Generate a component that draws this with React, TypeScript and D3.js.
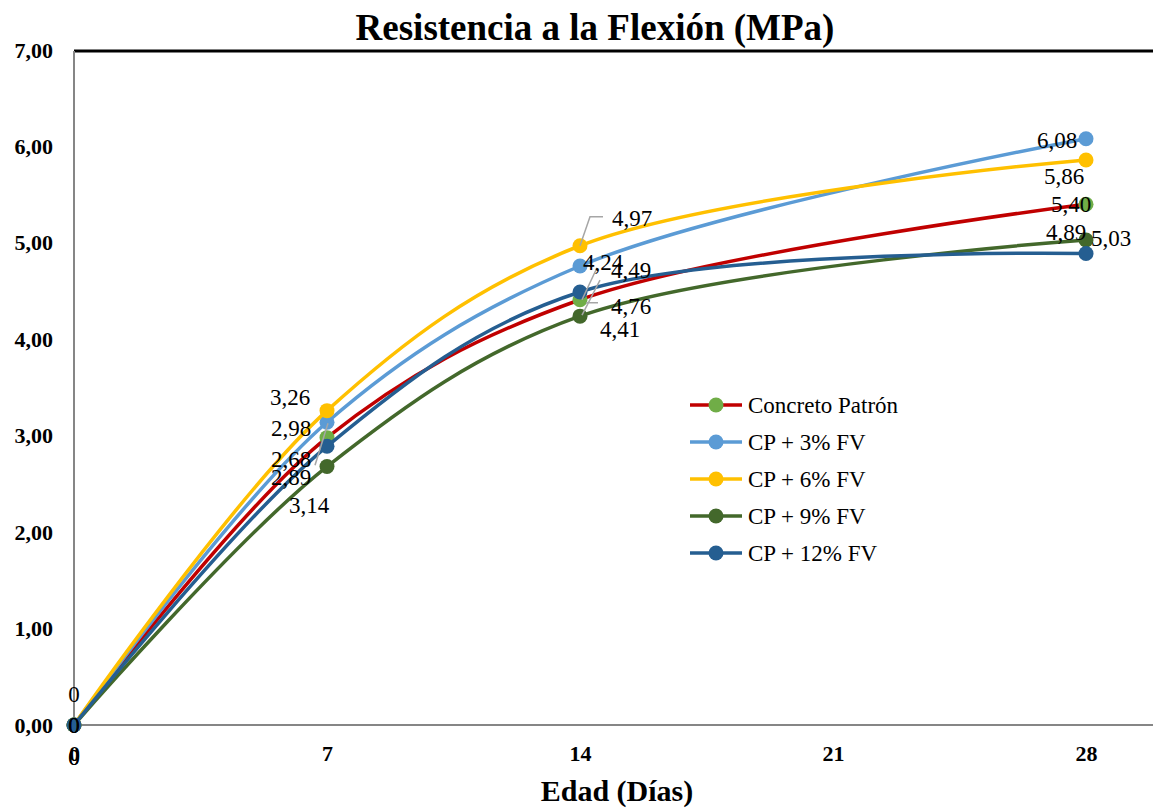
import React, { useEffect, useRef } from "react";
import * as d3 from "d3";

// edad de ensayo (días)
const days = [0, 7, 14, 28];
const seriesNames = ["Concreto Patrón", "CP + 3% FV", "CP + 6% FV", "CP + 9% FV", "CP + 12% FV"];
const patron = [0, 2.98, 4.41, 5.4];
const cp3 = [0, 3.14, 4.76, 6.08];
const cp6 = [0, 3.26, 4.97, 5.86];
const cp9 = [0, 2.68, 4.24, 5.03];
const cp12 = [0, 2.89, 4.49, 4.89];
const xTicks = [0, 7, 14, 21, 28];
const yTicks = [0, 1, 2, 3, 4, 5, 6, 7];

// labels are swapped around like in the original sheet
const labelText = [
  ["0", "2,98", "4,41", "5,40"],
  ["0", "3,14", "4,76", "6,08"],
  ["0", "3,26", "4,97", "5,86"],
  ["0", "2,68", "4,24", "5,03"],
  ["0", "2,89", "4,49", "4,89"],
];

const lineColors = ["#C00000", "#5B9BD5", "#FFC000", "#43682B", "#255E91"];
const markerColors = ["#70AD47", "#5B9BD5", "#FFC000", "#43682B", "#255E91"];

// label offsets from each point [dx, dy]
const labelOffsets: [number, number][][] = [
  [[0, -31], [-36, -10], [40, 29], [-15, 0]],
  [[0, 0], [-18, 83], [51, 40], [-29, 1]],
  [[0, 32], [-37, -14], [52, -28], [-22, 16]],
  [[0, 0], [-36, -8], [23, -54], [25, -2]],
  [[0, 32], [-36, 31], [51, -22], [-20, -22]],
];

// leader lines: [series, point, path relative to the point]
const leaders: [number, number, [number, number][]][] = [
  [2, 2, [[0, 0], [10, -29], [23, -29]]],
  [3, 2, [[2, -1], [20, -36]]],
  [0, 2, [[2, 0], [17, -32]]],
  [0, 2, [[6, 3], [18, 3]]],
  [1, 1, [[1, 1], [-12, 43]]],
];

const serif = "'Liberation Serif', 'Times New Roman', serif";

const App: React.FC = () => {
  const svgRef = useRef<SVGSVGElement | null>(null);

  useEffect(() => {
    if (!svgRef.current) return;
    const svg = d3.select(svgRef.current);
    svg.selectAll("*").remove();

    const data = [patron, cp3, cp6, cp9, cp12];
    const x = d3.scaleLinear().domain([0, 30]).range([74, 74 + (30 * 1012) / 28]);
    const y = d3.scaleLinear().domain([0, 7]).range([725, 50]);

    // axes
    svg
      .append("g")
      .attr("transform", "translate(74,0)")
      .call(d3.axisLeft(y).tickValues(yTicks).tickSize(0).tickPadding(21).tickFormat((d) => d3.format(".2f")(d as number).replace(".", ",")))
      .call((g) => g.select(".domain").remove())
      .selectAll("text")
      .attr("fill", "#000")
      .style("font-family", serif)
      .style("font-size", "22px")
      .style("font-weight", "bold");

    svg
      .append("g")
      .attr("transform", "translate(0,725)")
      .call(d3.axisBottom(x).tickValues(xTicks).tickSize(0).tickPadding(20).tickFormat(d3.format("d")))
      .call((g) => g.select(".domain").remove())
      .selectAll("text")
      .attr("fill", "#000")
      .style("font-family", serif)
      .style("font-size", "22px")
      .style("font-weight", "bold");

    svg.append("line").attr("x1", 74).attr("x2", 1153).attr("y1", 51).attr("y2", 51).attr("stroke", "#000").attr("stroke-width", 3);
    svg.append("line").attr("x1", 74).attr("x2", 74).attr("y1", 51).attr("y2", 725).attr("stroke", "#868686").attr("stroke-width", 2);
    svg.append("line").attr("x1", 74).attr("x2", 1153).attr("y1", 725).attr("y2", 725).attr("stroke", "#868686").attr("stroke-width", 2);

    const line = d3
      .line<number>()
      .x((_, i) => x(days[i]))
      .y((d) => y(d))
      .curve(d3.curveCatmullRom.alpha(0.5));

    data.forEach((vals, si) => {
      svg
        .append("path")
        .attr("d", line(vals))
        .attr("fill", "none")
        .attr("stroke", lineColors[si])
        .attr("stroke-width", 3.5)
        .attr("stroke-linecap", "round");
      svg
        .selectAll(null)
        .data(vals)
        .enter()
        .append("circle")
        .attr("cx", (_, i) => x(days[i]))
        .attr("cy", (d) => y(d))
        .attr("r", 7.5)
        .attr("fill", markerColors[si]);
    });

    // leader lines
    leaders.forEach(([si, pi, pts]) => {
      const px = x(days[pi]);
      const py = y(data[si][pi]);
      svg
        .append("path")
        .attr("d", d3.line()(pts.map(([dx, dy]) => [px + dx, py + dy])))
        .attr("fill", "none")
        .attr("stroke", "#A6A6A6")
        .attr("stroke-width", 1.5);
    });

    // data labels
    data.forEach((vals, si) => {
      vals.forEach((v, pi) => {
        const [dx, dy] = labelOffsets[si][pi];
        svg
          .append("text")
          .attr("x", x(days[pi]) + dx)
          .attr("y", y(v) + dy)
          .attr("dy", "0.35em")
          .attr("text-anchor", "middle")
          .style("font-family", serif)
          .style("font-size", "23px")
          .attr("fill", "#000")
          .text(labelText[si][pi]);
      });
    });

    // legend
    const legend = svg.append("g").attr("transform", "translate(690,405)");
    seriesNames.forEach((name, i) => {
      const row = legend.append("g").attr("transform", `translate(0,${i * 37})`);
      row.append("line").attr("x1", 0).attr("x2", 52).attr("stroke", lineColors[i]).attr("stroke-width", 3.5);
      row.append("circle").attr("cx", 26).attr("r", 7.5).attr("fill", markerColors[i]);
      row
        .append("text")
        .attr("x", 58)
        .attr("dy", "0.35em")
        .style("font-family", serif)
        .style("font-size", "23px")
        .attr("fill", "#000")
        .text(name);
    });

    // titles
    svg
      .append("text")
      .attr("x", 595)
      .attr("y", 40)
      .attr("text-anchor", "middle")
      .style("font-family", serif)
      .style("font-size", "37px")
      .style("font-weight", "bold")
      .text("Resistencia a la Flexión (MPa)");

    svg
      .append("text")
      .attr("x", 617)
      .attr("y", 801)
      .attr("text-anchor", "middle")
      .style("font-family", serif)
      .style("font-size", "30px")
      .style("font-weight", "bold")
      .text("Edad (Días)");
  }, []);

  return (
    <svg
      ref={svgRef}
      width={1153}
      height={810}
      style={{ position: "absolute", left: 0, top: 0, background: "#fff" }}
    />
  );
};

export default App;
